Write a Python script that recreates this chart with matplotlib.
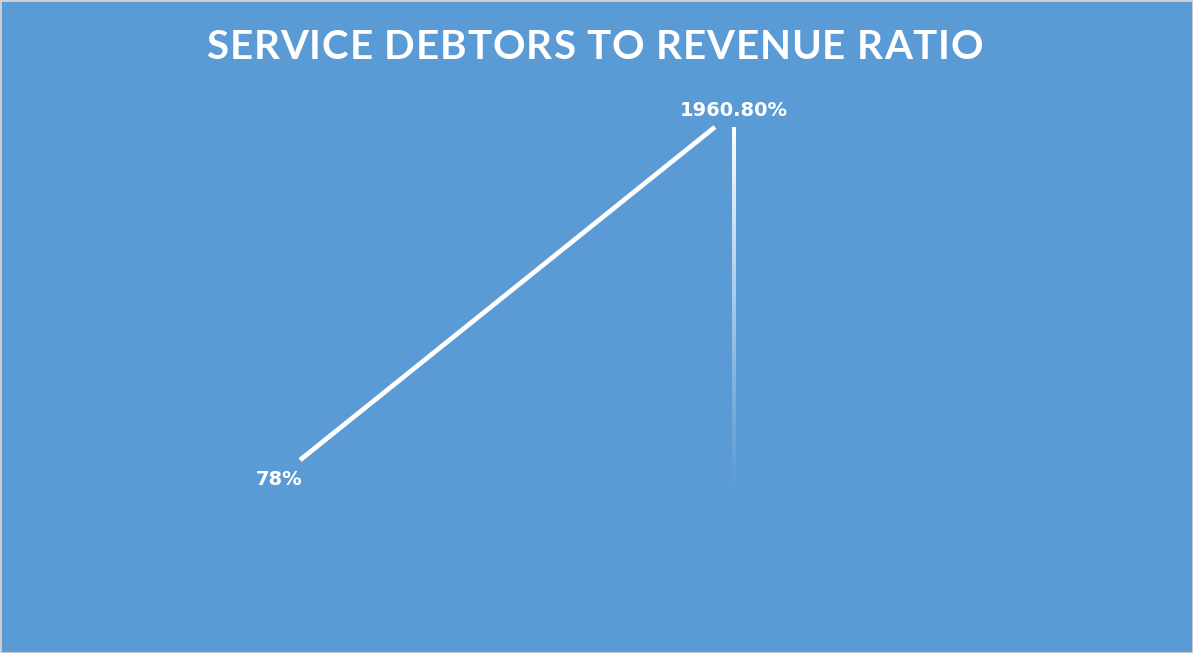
import numpy as np
import matplotlib.pyplot as plt
from matplotlib.patches import Rectangle

# ratio series (per cent)
periods = ['Prior', 'Current']
ratio = [78, 1960.80]
labels = ['78%', '1960.80%']
title = 'SERVICE DEBTORS TO REVENUE RATIO'

bg = '#5B9BD5'

fig = plt.figure(figsize=(11.93, 6.53), dpi=100, facecolor=bg)
ax = fig.add_axes([0, 0, 1, 1])
ax.set_facecolor(bg)

xs = np.arange(len(periods))
ax.plot(xs, ratio, color='white', linewidth=3.4, solid_capstyle='butt')

# thin column under the last value, fading out toward the base
bar_x = xs[-1] + 0.045
bar_w = 0.008
grad = np.ones((256, 1, 4))
grad[:, 0, 3] = np.linspace(1.0, 0.0, 256) ** 1.2
ax.imshow(grad, extent=[bar_x - bar_w / 2, bar_x + bar_w / 2, -130, ratio[-1]],
          aspect='auto', origin='upper', interpolation='bilinear', zorder=2)

ax.text(xs[0] - 0.05, ratio[0] - 110, labels[0], color='white', fontsize=14,
        fontweight='bold', ha='center', va='center', family='DejaVu Sans')
ax.text(bar_x, ratio[-1] + 95, labels[1], color='white', fontsize=14,
        fontweight='bold', ha='center', va='center', family='DejaVu Sans')

ax.set_xlim(-0.723, 2.152)
ax.set_ylim(-1013, 2679)
ax.axis('off')

# letter-spaced title, one glyph at a time
title_kw = dict(color='white', fontsize=29, fontweight='bold', family='Lato')
renderer = fig.canvas.get_renderer()


def text_width(s):
    t = fig.text(0, 0, s, **title_kw)
    w = t.get_window_extent(renderer).width
    t.remove()
    return w


bars = text_width('||')
advances = [text_width('|' + ch + '|') - bars for ch in title]
title_width = 777  # px
tracking = (title_width - sum(advances)) / (len(title) - 1)
fig_w = fig.get_figwidth() * fig.dpi
x = 0.4985 * fig_w - title_width / 2
for ch, a in zip(title, advances):
    fig.text(x / fig_w, 0.928, ch, ha='left', va='center', **title_kw)
    x += a + tracking

fig.patches.append(Rectangle((0, 0), 1, 1, transform=fig.transFigure,
                             fill=False, edgecolor='#D0D0D0', linewidth=2))

fig.savefig('out.png', dpi=100, facecolor=bg)
